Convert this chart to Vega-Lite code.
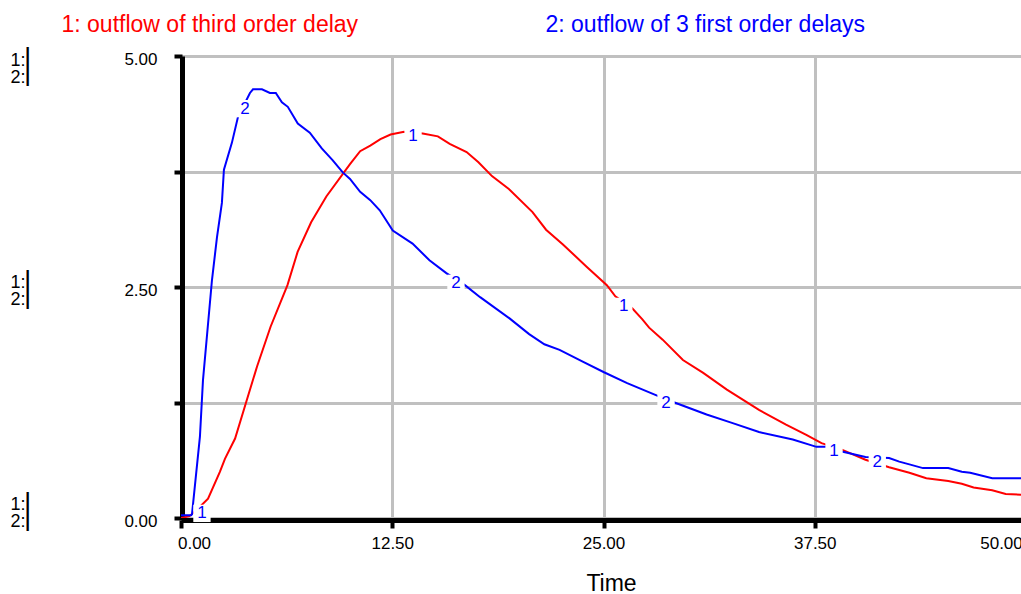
{
  "$schema": "https://vega.github.io/schema/vega-lite/v6.json",
  "width": 845,
  "height": 462,
  "autosize": {"type": "none"},
  "padding": {"left": 181, "top": 56, "right": -5, "bottom": 76},
  "background": "white",
  "config": {
    "view": {"stroke": null},
    "font": "Liberation Sans",
    "axis": {"labelFont": "Liberation Sans", "titleFont": "Liberation Sans"}
  },
  "datasets": {
    "lines": [
      {"series": "1", "time": 0, "value": 0},
      {"series": "1", "time": 0.5, "value": 0.02},
      {"series": "1", "time": 1.0, "value": 0.1},
      {"series": "1", "time": 1.6, "value": 0.21},
      {"series": "1", "time": 2.3, "value": 0.5},
      {"series": "1", "time": 2.6, "value": 0.64},
      {"series": "1", "time": 3.2, "value": 0.86},
      {"series": "1", "time": 3.8, "value": 1.22},
      {"series": "1", "time": 4.5, "value": 1.64},
      {"series": "1", "time": 5.3, "value": 2.07},
      {"series": "1", "time": 6.3, "value": 2.52},
      {"series": "1", "time": 6.9, "value": 2.88},
      {"series": "1", "time": 7.7, "value": 3.2},
      {"series": "1", "time": 8.6, "value": 3.48},
      {"series": "1", "time": 10.0, "value": 3.83},
      {"series": "1", "time": 10.6, "value": 3.97},
      {"series": "1", "time": 11.2, "value": 4.03},
      {"series": "1", "time": 11.8, "value": 4.1},
      {"series": "1", "time": 12.4, "value": 4.15},
      {"series": "1", "time": 13.2, "value": 4.18},
      {"series": "1", "time": 14.3, "value": 4.16},
      {"series": "1", "time": 15.2, "value": 4.13},
      {"series": "1", "time": 15.9, "value": 4.05},
      {"series": "1", "time": 16.9, "value": 3.96},
      {"series": "1", "time": 17.6, "value": 3.85},
      {"series": "1", "time": 18.4, "value": 3.7},
      {"series": "1", "time": 19.4, "value": 3.56},
      {"series": "1", "time": 20.8, "value": 3.31},
      {"series": "1", "time": 21.6, "value": 3.12},
      {"series": "1", "time": 22.6, "value": 2.96},
      {"series": "1", "time": 24.0, "value": 2.72},
      {"series": "1", "time": 25.2, "value": 2.52},
      {"series": "1", "time": 25.7, "value": 2.4},
      {"series": "1", "time": 26.7, "value": 2.27},
      {"series": "1", "time": 27.3, "value": 2.15},
      {"series": "1", "time": 27.7, "value": 2.06},
      {"series": "1", "time": 28.5, "value": 1.93},
      {"series": "1", "time": 29.7, "value": 1.71},
      {"series": "1", "time": 30.9, "value": 1.57},
      {"series": "1", "time": 32.3, "value": 1.39},
      {"series": "1", "time": 34.2, "value": 1.17},
      {"series": "1", "time": 35.8, "value": 1.01},
      {"series": "1", "time": 37.0, "value": 0.9},
      {"series": "1", "time": 37.9, "value": 0.81},
      {"series": "1", "time": 39.1, "value": 0.74},
      {"series": "1", "time": 40.5, "value": 0.63},
      {"series": "1", "time": 41.9, "value": 0.55},
      {"series": "1", "time": 43.1, "value": 0.49},
      {"series": "1", "time": 44.1, "value": 0.43},
      {"series": "1", "time": 45.4, "value": 0.4},
      {"series": "1", "time": 46.2, "value": 0.37},
      {"series": "1", "time": 46.9, "value": 0.33},
      {"series": "1", "time": 48.0, "value": 0.3},
      {"series": "1", "time": 48.8, "value": 0.26},
      {"series": "1", "time": 50.0, "value": 0.25},
      {"series": "2", "time": 0, "value": 0.03},
      {"series": "2", "time": 0.6, "value": 0.03},
      {"series": "2", "time": 0.65, "value": 0.04},
      {"series": "2", "time": 1.12, "value": 0.88},
      {"series": "2", "time": 1.3, "value": 1.49},
      {"series": "2", "time": 1.83, "value": 2.57},
      {"series": "2", "time": 2.13, "value": 3.04},
      {"series": "2", "time": 2.42, "value": 3.41},
      {"series": "2", "time": 2.54, "value": 3.77},
      {"series": "2", "time": 3.01, "value": 4.06},
      {"series": "2", "time": 3.37, "value": 4.34},
      {"series": "2", "time": 4.08, "value": 4.6},
      {"series": "2", "time": 4.26, "value": 4.64},
      {"series": "2", "time": 4.79, "value": 4.64},
      {"series": "2", "time": 5.26, "value": 4.6},
      {"series": "2", "time": 5.61, "value": 4.6},
      {"series": "2", "time": 5.97, "value": 4.5},
      {"series": "2", "time": 6.32, "value": 4.45},
      {"series": "2", "time": 6.91, "value": 4.27},
      {"series": "2", "time": 7.62, "value": 4.17},
      {"series": "2", "time": 8.33, "value": 4.0},
      {"series": "2", "time": 8.98, "value": 3.87},
      {"series": "2", "time": 9.57, "value": 3.74},
      {"series": "2", "time": 10.0, "value": 3.67},
      {"series": "2", "time": 10.6, "value": 3.53},
      {"series": "2", "time": 11.2, "value": 3.44},
      {"series": "2", "time": 11.76, "value": 3.33},
      {"series": "2", "time": 12.53, "value": 3.11},
      {"series": "2", "time": 13.7, "value": 2.97},
      {"series": "2", "time": 14.7, "value": 2.79},
      {"series": "2", "time": 15.7, "value": 2.65},
      {"series": "2", "time": 16.8, "value": 2.52},
      {"series": "2", "time": 17.7, "value": 2.39},
      {"series": "2", "time": 19.44, "value": 2.16},
      {"series": "2", "time": 20.6, "value": 1.99},
      {"series": "2", "time": 21.5, "value": 1.88},
      {"series": "2", "time": 22.4, "value": 1.82},
      {"series": "2", "time": 23.8, "value": 1.69},
      {"series": "2", "time": 25.0, "value": 1.58},
      {"series": "2", "time": 26.4, "value": 1.46},
      {"series": "2", "time": 28.1, "value": 1.33},
      {"series": "2", "time": 29.2, "value": 1.25},
      {"series": "2", "time": 31.1, "value": 1.12},
      {"series": "2", "time": 32.6, "value": 1.03},
      {"series": "2", "time": 34.2, "value": 0.93},
      {"series": "2", "time": 36.2, "value": 0.85},
      {"series": "2", "time": 37.6, "value": 0.77},
      {"series": "2", "time": 38.2, "value": 0.77},
      {"series": "2", "time": 39.1, "value": 0.72},
      {"series": "2", "time": 40.5, "value": 0.66},
      {"series": "2", "time": 41.9, "value": 0.65},
      {"series": "2", "time": 42.5, "value": 0.61},
      {"series": "2", "time": 43.1, "value": 0.58},
      {"series": "2", "time": 43.9, "value": 0.54},
      {"series": "2", "time": 45.4, "value": 0.54},
      {"series": "2", "time": 46.2, "value": 0.5},
      {"series": "2", "time": 46.7, "value": 0.49},
      {"series": "2", "time": 48.0, "value": 0.43},
      {"series": "2", "time": 50.0, "value": 0.43}
    ],
    "labels": [
      {"label": "1", "time": 1.24, "value": 0.05},
      {"label": "1", "time": 13.73, "value": 4.13},
      {"label": "1", "time": 26.2, "value": 2.29},
      {"label": "1", "time": 38.64, "value": 0.73},
      {"label": "2", "time": 3.79, "value": 4.43},
      {"label": "2", "time": 16.27, "value": 2.54},
      {"label": "2", "time": 28.7, "value": 1.25},
      {"label": "2", "time": 41.2, "value": 0.61}
    ]
  },
  "resolve": {"axis": {"x": "independent", "y": "independent"}},
  "layer": [
    {
      "data": {"name": "lines"},
      "mark": {"type": "line", "strokeWidth": 2, "clip": true},
      "encoding": {
        "x": {
          "field": "time", "type": "quantitative",
          "scale": {"domain": [0, 50], "nice": false, "zero": false},
          "axis": {
            "orient": "bottom",
            "values": [0, 12.5, 25, 37.5, 50],
            "labelExpr": "format(datum.value, '.2f')",
            "offset": 2,
            "domainColor": "black", "domainWidth": 5,
            "tickColor": "black", "tickWidth": 4, "tickSize": 8,
            "labelFontSize": 17, "labelColor": "black", "labelPadding": 7,
            "labelFlush": false, "labelOverlap": false, "labelBound": false,
            "labelOffset": {"condition": [{"test": "datum.value == 0", "value": 13}, {"test": "datum.value == 50", "value": -25}], "value": 0},
            "grid": true, "gridColor": "#c0c0c0", "gridWidth": 3,
            "title": "Time", "titleFontSize": 23, "titleFontWeight": "normal", "titleColor": "black",
            "titleX": 430, "titleY": 70, "titleBaseline": "alphabetic", "titleAlign": "center"
          }
        },
        "y": {
          "field": "value", "type": "quantitative",
          "scale": {"domain": [0, 5], "nice": false},
          "axis": {
            "orient": "left",
            "values": [0, 1.25, 2.5, 3.75, 5],
            "labelExpr": "datum.value == 1.25 || datum.value == 3.75 ? '' : format(datum.value, '.2f')",
            "offset": -1,
            "domainColor": "black", "domainWidth": 5,
            "tickColor": "black", "tickWidth": 4, "tickSize": 8,
            "labelFontSize": 17, "labelColor": "black", "labelPadding": 17, "labelOffset": 3,
            "labelFlush": false, "labelOverlap": false,
            "grid": true, "gridColor": "#c0c0c0", "gridWidth": 3,
            "title": null
          }
        },
        "color": {
          "field": "series", "type": "nominal",
          "scale": {"domain": ["1", "2"], "range": ["#ff0000", "#0000ff"]},
          "legend": null
        }
      }
    },
    {
      "data": {"name": "labels"},
      "mark": {"type": "point", "shape": "square", "filled": true, "color": "white", "opacity": 1, "size": 300},
      "encoding": {
        "x": {
          "field": "time", "type": "quantitative",
          "axis": {
            "orient": "top", "labels": false, "ticks": false, "domain": false, "grid": false,
            "title": "2: outflow of 3 first order delays",
            "titleColor": "#0000ff", "titleFontSize": 23, "titleFontWeight": "normal",
            "titleX": 364, "titleY": -25, "titleAlign": "left", "titleBaseline": "alphabetic"
          }
        },
        "y": {
          "field": "value", "type": "quantitative",
          "axis": {
            "orient": "left", "values": [0, 2.5, 5],
            "labelExpr": "['1:', '2:']",
            "domain": false, "ticks": false, "tickSize": 0, "grid": false,
            "offset": 150, "labelPadding": 6,
            "labelFontSize": 18, "labelColor": "black", "labelLineHeight": 17,
            "labelOverlap": false, "labelFlush": false,
            "labelOffset": {"condition": [{"test": "datum.value == 0", "value": -14}, {"test": "datum.value == 5", "value": 4}], "value": -5},
            "title": null
          }
        }
      }
    },
    {
      "data": {"name": "labels"},
      "mark": {"type": "text", "color": "#0000ff", "fontSize": 17, "font": "Liberation Sans", "baseline": "middle", "align": "center"},
      "encoding": {
        "x": {
          "field": "time", "type": "quantitative",
          "axis": {
            "orient": "top", "labels": false, "ticks": false, "domain": false, "grid": false,
            "title": "1: outflow of third order delay",
            "titleColor": "#ff0000", "titleFontSize": 23, "titleFontWeight": "normal",
            "titleX": -120, "titleY": -25, "titleAlign": "left", "titleBaseline": "alphabetic"
          }
        },
        "y": {
          "field": "value", "type": "quantitative",
          "axis": {
            "orient": "left", "values": [0, 2.5, 5],
            "labelExpr": "'|'",
            "domain": false, "ticks": false, "tickSize": 0, "grid": false,
            "offset": 150, "labelPadding": 4, "labelAlign": "center",
            "labelFont": "Roboto", "labelFontWeight": 300, "labelFontSize": 46, "labelColor": "black",
            "labelOverlap": false, "labelFlush": false,
            "labelOffset": {"condition": [{"test": "datum.value == 0", "value": -8}, {"test": "datum.value == 5", "value": 9}], "value": 1},
            "title": null
          }
        },
        "text": {"field": "label"}
      }
    }
  ]
}
